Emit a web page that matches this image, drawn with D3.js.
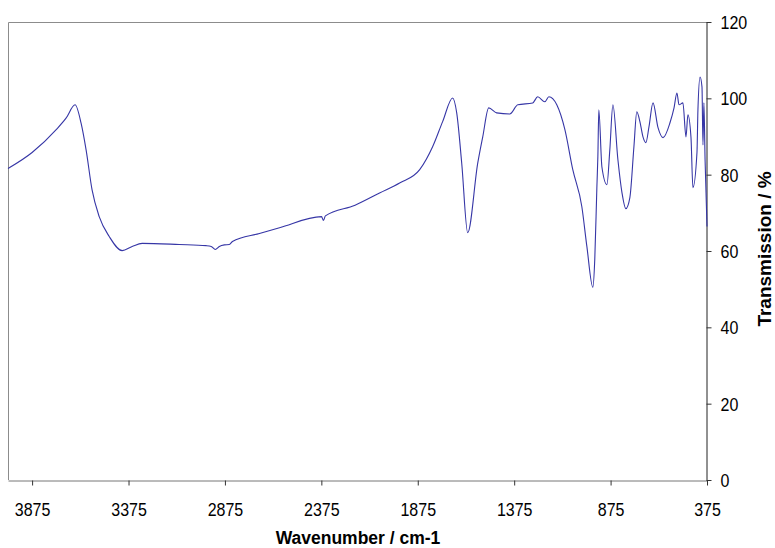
<!DOCTYPE html>
<html>
<head>
<meta charset="utf-8">
<script src="https://cdn.jsdelivr.net/npm/d3@7"></script>
<style>
    body { margin: 0; background: #fff; }
    text { font-family: "Liberation Sans", Arial, sans-serif; }
</style>
</head>
<body>
<div id="chart"></div>
<script>
// spectrum
const wavenumber = [4000, 3875, 3750, 3699, 3652, 3621, 3595, 3564, 3527, 3475, 3408, 3356, 3304,
    3112, 2972, 2946, 2925, 2904, 2878, 2852, 2836, 2696, 2592, 2374, 2364, 2354, 2200, 2073, 1969,
    1865, 1798, 1746, 1694, 1673, 1647, 1616, 1564, 1538, 1507, 1466, 1398, 1356, 1279, 1253,
    1216, 1195, 1154, 1112, 1071, 1024, 998, 967, 957, 946, 941, 936, 920, 894, 879, 863, 837,
    816, 796, 775, 754, 739, 723, 707, 692, 676, 655, 629, 603, 567, 546, 531, 520, 500, 484,
    474, 458, 448, 427, 422, 411, 401, 396, 391, 385, 375];
const transmission = [81.6, 85.8, 91.8, 94.8, 98.3, 93.5, 86.5, 76, 69, 63.8, 60.1, 61.2, 62,
    61.7, 61.4, 61.2, 60.4, 61.2, 61.6, 61.7, 62.5, 64.6, 66.1, 69, 68, 69.2, 72, 75.2, 77.8,
    81.3, 87.3, 93.9, 100.1, 96.2, 83, 64.8, 83, 89.9, 97.5, 96.2, 95.9, 98.3, 98.8, 100.4,
    99.1, 100.4, 98.3, 91.8, 81.3, 71.6, 61.2, 50.5, 57.8, 76.9, 84.7, 97, 82, 77.4, 86.5, 98.3, 83.9,
    75.3, 71.1, 74, 87.3, 96.5, 93.9, 89.9, 88.4, 92.5, 98.8, 92.3, 89.7, 93.6, 97.5, 101.4, 98.3, 98.8, 89.9,
    95.7, 89.7, 76.6, 85.8, 97, 105.6, 103, 87.8, 98.8, 83.9, 66.4];

const xTicks = [3875, 3375, 2875, 2375, 1875, 1375, 875, 375];
const yTicks = [0, 20, 40, 60, 80, 100, 120];

const width = 775, height = 548;
const margin = {left: 8, right: 707, top: 22, bottom: 480};

const svg = d3.select("#chart").append("svg")
    .attr("width", width)
    .attr("height", height);

const x = d3.scaleLinear().domain([4000, 375]).range([margin.left, margin.right]);
const y = d3.scaleLinear().domain([0, 120]).range([margin.bottom, margin.top]);

// plot area border (top and left)
svg.append("path")
    .attr("d", "M" + margin.right + "," + (margin.top + 0.5) + "H" + (margin.left + 0.5) + "V" + margin.bottom)
    .attr("fill", "none")
    .attr("stroke", "#8c8c8c")
    .attr("stroke-width", 1);

// x axis
const xAxis = svg.append("g")
    .attr("transform", "translate(0," + (margin.bottom + 0.5) + ")")
    .call(d3.axisBottom(x).tickValues(xTicks).tickSize(5).tickSizeOuter(0).tickFormat(d3.format("d")));
xAxis.select(".domain").attr("stroke", "#777");
xAxis.selectAll(".tick line").attr("stroke", "#333");
xAxis.selectAll(".tick text")
    .attr("font-size", 16)
    .attr("font-family", "Liberation Sans, Arial, sans-serif")
    .attr("fill", "#000")
    .attr("y", 0)
    .attr("dy", 0)
    .attr("transform", "translate(0,35) scale(1,1.2)");

// y axis on the right
const yAxis = svg.append("g")
    .attr("transform", "translate(" + (margin.right - 0.5) + ",0)")
    .call(d3.axisRight(y).tickValues(yTicks).tickSize(5).tickSizeOuter(0));
yAxis.select(".domain").attr("stroke", "#222");
yAxis.selectAll(".tick line").attr("stroke", "#333");
yAxis.selectAll(".tick text")
    .attr("font-size", 16)
    .attr("font-family", "Liberation Sans, Arial, sans-serif")
    .attr("fill", "#000")
    .attr("x", 0)
    .attr("dy", 0)
    .attr("transform", "translate(14,6.5) scale(1,1.2)");

// spectrum
const pts = wavenumber.map((w, i) => [w, transmission[i]]);
svg.append("path")
    .datum(pts)
    .attr("fill", "none")
    .attr("stroke", "#3636a6")
    .attr("stroke-width", 1.1)
    .attr("d", d3.line()
        .x(d => x(d[0]))
        .y(d => y(d[1]))
        .curve(d3.curveMonotoneX));

// axis titles
svg.append("text")
    .attr("x", 358)
    .attr("y", 544)
    .attr("text-anchor", "middle")
    .attr("font-weight", "bold")
    .attr("font-size", 17.5)
    .text("Wavenumber / cm-1");

svg.append("text")
    .attr("transform", "translate(771,249) rotate(-90)")
    .attr("text-anchor", "middle")
    .attr("font-weight", "bold")
    .attr("font-size", 19)
    .text("Transmission / %");
</script>
</body>
</html>
